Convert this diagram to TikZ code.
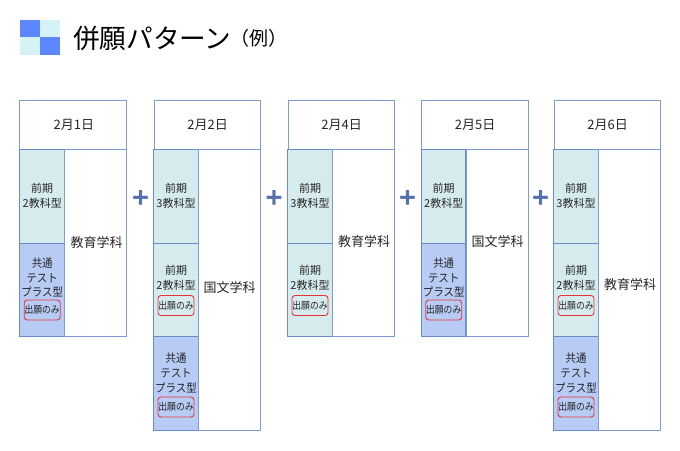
\documentclass[tikz,border=0pt]{standalone}
\usepackage{fontspec}
\setmainfont{Noto Sans CJK JP}
\newfontfamily\latinf{Liberation Sans}
\definecolor{edge}{HTML}{7F9BD3}
\definecolor{inner}{HTML}{6A8BC6}
\definecolor{early}{HTML}{D5EBEE}
\definecolor{kyotsu}{HTML}{B7CBF5}
\definecolor{sqblue}{HTML}{5B88FF}
\definecolor{sqpale}{HTML}{D5F3F7}
\definecolor{plusc}{HTML}{5672AC}
\definecolor{tagred}{HTML}{E8333C}
\begin{document}
\begin{tikzpicture}[x=1pt,y=-1pt,
  cellbase/.style={draw=inner,line width=1pt,minimum width=44.5pt,inner sep=0pt},
  earlycell/.style={cellbase,fill=early},
  kyotsucell/.style={cellbase,fill=kyotsu},
  celltext/.style={inner sep=0pt,align=center,text=black!85,font=\fontsize{11pt}{14.7pt}\selectfont},
  kyotsutext/.style={celltext,xscale=0.9,transform shape,font=\fontsize{11.6pt}{14.7pt}\selectfont},
  headcell/.style={draw=edge,line width=1pt,fill=white,minimum height=49pt,inner sep=0pt,text=black!85,font=\fontsize{13pt}{15pt}\selectfont},
  deptcell/.style={draw=edge,line width=1pt,fill=white,minimum width=62pt,inner sep=0pt,text=black!85,font=\fontsize{13pt}{15pt}\selectfont},
  depttext/.style={inner sep=0pt,text=black!85,font=\fontsize{13pt}{15pt}\selectfont},
  onlytag/.style={draw=tagred,rounded corners=3pt,line width=0.9pt,minimum width=36pt,minimum height=20pt,inner sep=0pt},
  onlytext/.style={inner sep=0pt,xscale=0.88,transform shape,text=black!85,font=\fontsize{10pt}{11pt}\selectfont},
  plusmark/.style={text=plusc,font=\latinf\bfseries\fontsize{29pt}{29pt}\selectfont,inner sep=0pt},
  sq/.style={inner sep=0pt,minimum width=20pt,minimum height=17.5pt}]
\useasboundingbox (0,0) rectangle (680,450);
\fill[white] (0,0) rectangle (680,450);
% title mark
\node[sq,fill=sqblue] (s1) at (30,28.7) {};
\node[sq,fill=sqpale] (s2) at (50,28.7) {};
\node[sq,fill=sqpale] (s3) at (30,46.2) {};
\node[sq,fill=sqblue] (s4) at (50,46.2) {};
\node[anchor=west,inner sep=0pt,font=\fontsize{26.6pt}{30pt}\selectfont] (title) at (73,38) {併願パターン};
\node[inner sep=0pt,font=\fontsize{19pt}{22pt}\selectfont] (ex) at (259,38) {（例）};
% col 1
\node[headcell,minimum width=106.5pt] (h1) at (73.2,124.5) {\hspace{1.2pt}2月1日};
\node[earlycell,minimum height=94pt] (a1) at (42.2,196) {};
\node[kyotsucell,minimum height=93pt] (b1) at (42.2,289.5) {};
\node[deptcell,minimum height=187pt] (d1) at (95.7,242.5) {};
\node[depttext] (e1) at (96.5,242.5) {教育学科};
\node[celltext] (ta1) at (42.2,195.5) {前期\\2教科型};
\node[kyotsutext] (tb1) at (42.2,277.5) {共通\\テスト\\プラス型};
\node[onlytag] (o1) at (42.2,310) {};
\node[onlytext] at (o1) {出願のみ};
% col 2
\node[headcell,minimum width=106pt] (h2) at (207,124.5) {\hspace{1.2pt}2月2日};
\node[earlycell,minimum height=94pt] (a2) at (176,196) {};
\node[earlycell,minimum height=93pt] (b2) at (176,289.5) {};
\node[kyotsucell,minimum height=94pt] (c2) at (176,383) {};
\node[deptcell,minimum height=281pt] (d2) at (229,289.5) {};
\node[depttext] (e2) at (229.5,288) {国文学科};
\node[celltext] (ta2) at (176,196) {前期\\3教科型};
\node[celltext] (tb2) at (176,277.5) {前期\\2教科型};
\node[onlytag] (o2) at (176,305.5) {};
\node[onlytext] at (o2) {出願のみ};
\node[kyotsutext] (tc2) at (176,373) {共通\\テスト\\プラス型};
\node[onlytag] (o3) at (176,407) {};
\node[onlytext] at (o3) {出願のみ};
% col 3
\node[headcell,minimum width=106pt] (h3) at (341,124.5) {\hspace{1.2pt}2月4日};
\node[earlycell,minimum height=94pt] (a3) at (310,196) {};
\node[earlycell,minimum height=93pt] (b3) at (310,289.5) {};
\node[deptcell,minimum height=187pt] (d3) at (363,242.5) {};
\node[depttext] (e3) at (364,242) {教育学科};
\node[celltext] (ta3) at (310,196) {前期\\3教科型};
\node[celltext] (tb3) at (310,277.5) {前期\\2教科型};
\node[onlytag] (o4) at (310,305.5) {};
\node[onlytext] at (o4) {出願のみ};
% col 4
\node[headcell,minimum width=107pt] (h4) at (474.5,124.5) {\hspace{1.2pt}2月5日};
\node[earlycell,minimum height=94pt] (a4) at (443.7,196) {};
\node[kyotsucell,minimum height=93pt] (b4) at (443.7,289.5) {};
\node[deptcell,minimum height=187pt] (d4) at (497,242.5) {};
\node[depttext] (e4) at (497.5,242) {国文学科};
\node[celltext] (ta4) at (443.7,195.5) {前期\\2教科型};
\node[kyotsutext] (tb4) at (443.7,277.5) {共通\\テスト\\プラス型};
\node[onlytag] (o5) at (443.7,310) {};
\node[onlytext] at (o5) {出願のみ};
% col 5
\node[headcell,minimum width=106pt] (h5) at (607,124.5) {\hspace{1.2pt}2月6日};
\node[earlycell,minimum height=94pt] (a5) at (576,196) {};
\node[earlycell,minimum height=93pt] (b5) at (576,289.5) {};
\node[kyotsucell,minimum height=94pt] (c5) at (576,383) {};
\node[deptcell,minimum height=281pt] (d5) at (629,289.5) {};
\node[depttext] (e5) at (630,285) {教育学科};
\node[celltext] (ta5) at (576,196) {前期\\3教科型};
\node[celltext] (tb5) at (576,277.5) {前期\\2教科型};
\node[onlytag] (o6) at (576,305.5) {};
\node[onlytext] at (o6) {出願のみ};
\node[kyotsutext] (tc5) at (576,373) {共通\\テスト\\プラス型};
\node[onlytag] (o7) at (576,407) {};
\node[onlytext] at (o7) {出願のみ};
% plus
\node[plusmark] (p1) at (140.5,198.5) {+};
\node[plusmark] (p2) at (274,198.5) {+};
\node[plusmark] (p3) at (407.5,198.5) {+};
\node[plusmark] (p4) at (540.5,198.5) {+};
\end{tikzpicture}
\end{document}
